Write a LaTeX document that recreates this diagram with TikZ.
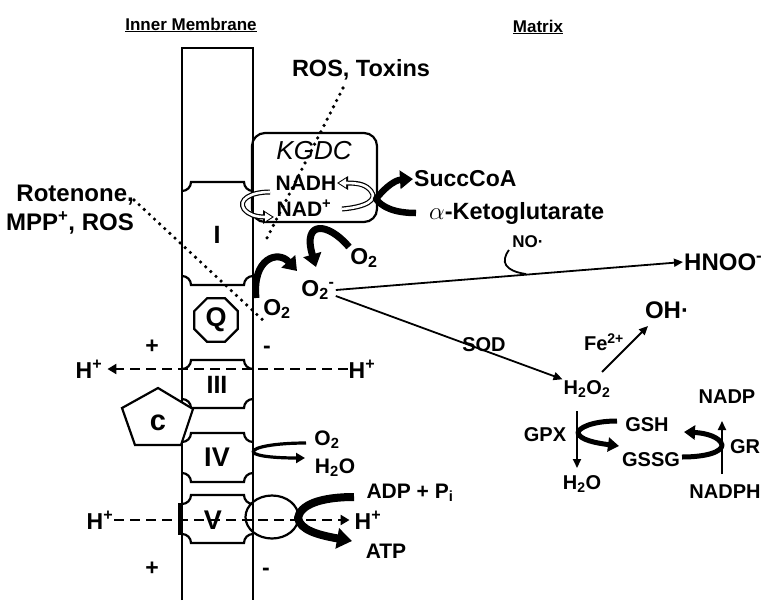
\documentclass[tikz,border=0pt]{standalone}
\usepackage{fontspec}
\setmainfont{Liberation Sans}
\usetikzlibrary{arrows.meta,shapes.geometric}
\newcommand{\cplxbox}[2]{%
 \draw[memb] (182,{#1+9}) .. controls (187,{#1+9}) and (191,{#1+5}) .. (191,#1) -- (244,#1) .. controls (244,{#1+5}) and (248,{#1+9}) .. (253,{#1+9});
 \draw[memb] (182,{#2-9}) .. controls (187,{#2-9}) and (191,{#2-5}) .. (191,#2) -- (244,#2) .. controls (244,{#2-5}) and (248,{#2-9}) .. (253,{#2-9});
}
\begin{document}
\begin{tikzpicture}[x=1pt,y=-1pt,
  txt/.style={font=\fontsize{23}{27}\selectfont\bfseries, inner sep=1pt},
  smtxt/.style={font=\fontsize{20}{23}\selectfont\bfseries, inner sep=1pt},
  bigtxt/.style={font=\fontsize{24}{28}\selectfont\bfseries, inner sep=1pt},
  hdr/.style={font=\fontsize{17}{20}\selectfont\bfseries, inner sep=1pt},
  cplxlbl/.style={font=\fontsize{27}{29}\selectfont\bfseries, inner sep=0pt},
  memb/.style={line width=2.2pt},
  fatarrow/.style={line width=7pt, line join=round, -{Triangle[length=13pt,width=18pt]}},
  medarrow/.style={line width=5pt, line join=round, -{Triangle[length=11pt,width=14pt]}},
  thinarrow/.style={line width=1.8pt, -{Triangle[length=9pt,width=8pt]}},
  dashline/.style={line width=2.8pt, dash pattern=on 10pt off 6pt},
  dotline/.style={line width=3.6pt, line cap=round, dash pattern=on 0pt off 7pt},
]
\useasboundingbox (0,0) rectangle (768,600);

% headers
\node[hdr] (hIM) at (191,25) {\underline{Inner Membrane}};
\node[hdr] (hMx) at (538,27) {\underline{Matrix}};

% membrane
\draw[memb] (182,600) -- (182,48) -- (253,48) -- (253,600);
\draw[line width=3pt] (179,503) -- (179,535);

% complexes
\cplxbox{182}{285}
\cplxbox{360}{408}
\cplxbox{433}{482}
\cplxbox{495}{543}
\node[cplxlbl, font=\fontsize{25}{27}\selectfont\bfseries] (cI) at (217,235) {I};
\node[cplxlbl, font=\fontsize{25}{27}\selectfont\bfseries] (cIII) at (217,385) {III};
\node[cplxlbl] (cIV) at (217,457) {IV};
\node[cplxlbl] (cV) at (213,520) {V};
\node[draw, memb, regular polygon, regular polygon sides=8, minimum size=47pt, inner sep=0pt, fill=white] (Q) at (216,320) {};
\node[cplxlbl] at (Q) {Q};
\draw[memb, fill=white] (158,388) -- (193,409) -- (181,445) -- (135,445) -- (122,408) -- cycle;
\node[cplxlbl, font=\fontsize{29}{31}\selectfont\bfseries] (cc) at (158,423) {c};
\node[draw, memb, ellipse, minimum width=53pt, minimum height=43pt, inner sep=0pt] (F1) at (272,517) {};

% KGDC
\node[draw, memb, rounded corners=13pt, minimum width=125pt, minimum height=89pt, inner sep=0pt] (kgdc) at (314.5,177.5) {};
\node[font=\fontsize{26}{28}\selectfont\itshape, inner sep=1pt] (kgdcl) at (314,151) {KGDC};
\node[txt, font=\fontsize{21}{23}\selectfont\bfseries] (nadh) at (306,183) {NADH};
\node[txt, font=\fontsize{21}{23}\selectfont\bfseries] (nad) at (304,208) {NAD\textsuperscript{+}};

% hollow arrows
\draw[line width=5pt, -{Triangle[length=11pt,width=13pt]}] (342,209) .. controls (366,207) and (378,200) .. (371,191) .. controls (366,185) and (360,183) .. (337,183);
\draw[white, line width=2.6pt, shorten >=2pt, -{Triangle[length=7pt,width=8.5pt]}] (342,209) .. controls (366,207) and (378,200) .. (371,191) .. controls (366,185) and (360,183) .. (337,183);
\draw[line width=5pt, -{Triangle[length=11pt,width=13pt]}] (270,192) .. controls (250,192) and (238,200) .. (244,209) .. controls (249,215) and (256,217) .. (274,217);
\draw[white, line width=2.6pt, shorten >=2pt, -{Triangle[length=7pt,width=8.5pt]}] (270,192) .. controls (250,192) and (238,200) .. (244,209) .. controls (249,215) and (256,217) .. (274,217);

% texts
\node[txt, font=\fontsize{23.5}{26}\selectfont\bfseries] (ros) at (361,70) {ROS, Toxins};
\node[txt, align=right, anchor=east, font=\fontsize{24}{29}\selectfont\bfseries] (rot) at (135,210) {Rotenone,\\MPP\textsuperscript{+}, ROS};
\node[txt, anchor=west] (succ) at (413,179) {SuccCoA};
\node[txt, anchor=west, font=\fontsize{23.5}{26}\selectfont\bfseries] (akg) at (428,213) {$\alpha$-Ketoglutarate};
\node[txt] (o2a) at (364,258) {O\textsubscript{2}};
\node[txt] (o2b) at (277,309) {O\textsubscript{2}};
\node[bigtxt, font=\fontsize{23}{26}\selectfont\bfseries] (sox) at (318,290) {O\textsubscript{2}\textsuperscript{-}};
\node[smtxt, font=\fontsize{17}{19}\selectfont\bfseries] (no) at (528,242) {NO·};
\node[bigtxt, anchor=west] (hnoo) at (683,262) {HNOO\textsuperscript{-}};
\node[smtxt] (sod) at (484,345) {SOD};
\node[smtxt] (h2o2) at (587,389) {H\textsubscript{2}O\textsubscript{2}};
\node[smtxt] (fe) at (604,342) {Fe\textsuperscript{2+}};
\node[bigtxt] (oh) at (667,310) {OH·};
\node[smtxt] (gpx) at (545,435) {GPX};
\node[smtxt] (h2ob) at (582,484) {H\textsubscript{2}O};
\node[smtxt] (gsh) at (647,425) {GSH};
\node[smtxt] (gssg) at (651,460) {GSSG};
\node[smtxt] (nadp) at (727,397) {NADP};
\node[smtxt] (nadph) at (725,492) {NADPH};
\node[smtxt] (gr) at (745,447) {GR};
\node[txt] (plus1) at (152,347) {+};
\node[txt] (minus1) at (267,350) {-};
\node[txt] (plus2) at (152,569) {+};
\node[txt] (minus2) at (266,572) {-};
\node[txt] (hl1) at (89,369) {H\textsuperscript{+}};
\node[txt] (hr1) at (362,369) {H\textsuperscript{+}};
\node[txt] (hl2) at (100,520) {H\textsuperscript{+}};
\node[txt] (hr2) at (368,520) {H\textsuperscript{+}};
\node[smtxt, font=\fontsize{21}{23}\selectfont\bfseries] (o2c) at (327,440) {O\textsubscript{2}};
\node[smtxt, font=\fontsize{21}{23}\selectfont\bfseries] (h2oc) at (335,468) {H\textsubscript{2}O};
\node[txt, font=\fontsize{21}{23}\selectfont\bfseries] (adp) at (410,493) {ADP + P\textsubscript{i}};
\node[txt, font=\fontsize{21}{23}\selectfont\bfseries] (atp) at (386,551) {ATP};

% dotted inhibitor lines
\draw[dotline] (343,88) -- (267,238);
\draw[dotline] (134,200) -- (265,322);

% dashed proton lines
\draw[dashline, -{Triangle[length=9pt,width=10pt]}] (hr1.west) -- ([xshift=4pt]hl1.east);
\draw[dashline, -{Triangle[length=9pt,width=10pt]}] (hl2.east) -- ([xshift=-4pt]hr2.west);

% KGDC reaction
\draw[fatarrow, line width=6.5pt] ([xshift=-12pt]akg.west) .. controls (394,213) and (382,207) .. (376,199) .. controls (386,186) and (396,180) .. (succ.west);

% superoxide formation
\draw[fatarrow] (349,247) .. controls (328,222) and (302,220) .. (316,267);
\draw[fatarrow] (256,298) .. controls (252,258) and (278,250) .. (297,271);

% superoxide fates
\draw[thinarrow] (sox.east) -- (hnoo.west);
\draw[line width=1.8pt] (509,250) .. controls (500,262) and (505,271) .. (526,274);
\draw[thinarrow] ([yshift=-6pt]sox.east) -- (h2o2.north west);
\draw[thinarrow] (602,372) -- (648,326);

% GPX
\draw[thinarrow] (577,411) -- (577,468);
\draw[medarrow] (617,421) .. controls (592,421) and (578,428) .. (578,433) .. controls (580,440) and (596,443) .. (619,446);

% GR
\draw[thinarrow] (722,474) -- (722,421);
\draw[medarrow] (682,457) .. controls (706,457) and (722,452) .. (722,445) .. controls (720,437) and (706,433) .. (684,432);

% complex IV
\draw[line width=3.2pt, line join=round, -{Triangle[length=9pt,width=10pt]}] (306,443) .. controls (276,443) and (253,447) .. (253,452) .. controls (256,457) and (282,458) .. (305,458);

% ATP synthase
\draw[fatarrow, line width=8pt, -{Triangle[length=15pt,width=20pt]}] (354,497) .. controls (320,497) and (300,505) .. (298,518) .. controls (300,530) and (318,535) .. (352,541);

\end{tikzpicture}
\end{document}
